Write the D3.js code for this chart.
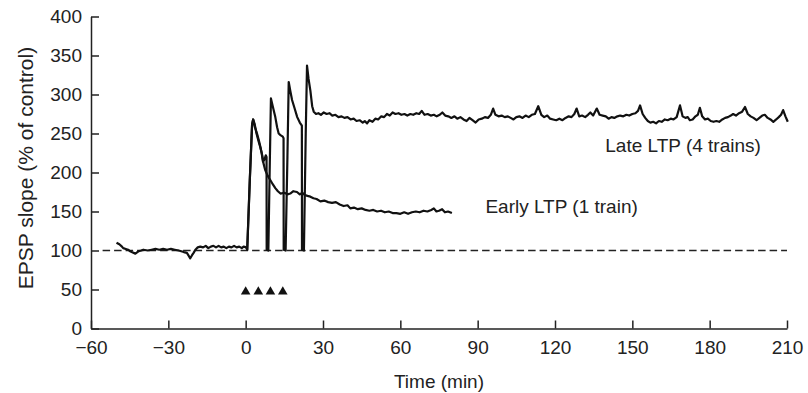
<!DOCTYPE html>
<html>
<head>
<meta charset="utf-8">
<script src="https://cdn.jsdelivr.net/npm/d3@7"></script>
<style>
  html, body { margin: 0; padding: 0; background: #fff; }
  svg { display: block; }
  text { font-family: "Liberation Sans", Arial, Helvetica, sans-serif; fill: #222; }
</style>
</head>
<body>
<svg id="chart" width="808" height="393"></svg>
<script>
// ---------- data ----------
const xTicks = [-60, -30, 0, 30, 60, 90, 120, 150, 180, 210];
const yTicks = [0, 50, 100, 150, 200, 250, 300, 350, 400];

const baseTime  = [-50.1,-49,-48,-47.5,-46.5,-45.6,-44.8,-44.2,-42.8,-42,-41.5,-40.5,-39.7,-38,-36.5,-35,-33.5,-32,-30.5,-29,-27.5,-26,-25,-24,-22.8,-21.5,-20.8,-20.2,-19.5,-18.6,-17.6,-16.5,-15.5,-14.5,-13.5,-12.5,-11.5,-10.5,-9.5,-8.5,-7.5,-6.5,-5.5,-4.5,-3.5,-2.5,-1.5,-0.8,0.3];
const baseValue = [110,108,105,103,102,101,99,98,96,98,99,100,101,100,101,102,101,102,101,102,101,100,99,98,97,90,94,97,101,104,105,104,106,103,105,106,104,106,104,105,103,105,104,106,104,105,103,105,104];

const earlyTime  = [0.3,0.6,1.6,2.5,2.9,3.5,4.2,5.0,5.7,6.3,6.6,6.9,7.6,8.5,9.6,10.5,11.5,12.5,13.5,15,16.2,17.3,18.5,19.9,21,22,23,24,25.1,26.3,27.5,29,30.5,32,33.5,35,36.5,38,39.5,40.6,42,43.5,45,46.5,48,49.5,51,52.5,54,55.5,57,58.5,60,61.5,63,64.5,66,67.5,69,70.5,72,73,74,75,76.2,77.3,78.5,80];
const earlyValue = [104,101,190,262,268,262,250,240,232,224,218,212,203,196,190,185,180,176,173,174,172,173,176,175,172,174,171,170,169,167,166,163,164,162,161,162,159,157,158,154,155,153,154,152,151,152,150,151,149,150,148,148,147,149,147,149,150,149,151,150,152,154,150,151,153,149,150,148];

const lateTime  = [0.3,0.6,1.6,2.5,2.9,3.6,4.4,5.2,5.7,6.2,6.7,7.2,7.8,8.1,8.15,8.8,9.3,9.8,10.5,11.5,12.2,12.8,13.5,14.4,14.7,14.75,15.5,16.2,16.7,17.3,18,19,20,21,21.8,21.85,22.6,23.3,23.8,24.4,25.1,25.8,26.4,27.3,28.2,29.2,30.3,31.4,32.5,33.6,34.8,36,37.2,38.3,39.5,40.7,41.9,43,44.2,45.4,46.2,47.1,48,49.2,50.3,51.4,52.6,53.7,54.8,55.9,57,58.1,59.3,60.4,61.6,62.7,63.9,65,66.2,67.3,68.3,69.4,70.6,71.8,73,74.1,75.3,76.3,77.4,78.6,79.8,81,82.1,83.3,84.5,85.7,86.8,88,89.2,90.4,91.6,92.8,94,95.1,96,96.9,98.1,99.3,100.5,101.7,102.8,103.9,105,106.2,107.4,108.6,109.8,111,112.2,113.5,114.7,115.8,117,118.1,119.3,120.5,121.7,122.9,124.1,125.3,126.4,127.5,128.4,129.4,130.5,131.7,132.8,133.7,134.8,136.2,137.3,138.5,139.7,140.8,141.9,143,144.2,145.3,146.5,147.7,148.8,150,151.2,152.2,153,154,155,156,157,158.1,159.2,160.3,161.4,162.6,163.7,164.9,166,167.2,168.5,169.5,170.6,171.5,172.3,173.4,174.5,175.4,176.2,177.1,178.2,179.3,180.4,181.5,182.6,183.7,184.9,186,187.1,188.2,189.1,190.2,191.4,192.6,193.7,194.8,195.9,197,198.2,199.3,200.4,201.4,202.5,203.6,204.7,205.8,206.8,207.7,208.5,209.4,210.3];
const lateValue = [104,101,190,262,268,258,250,240,233,225,214,216,222,220,101,100,200,295,285,271,258,250,248,246,244,101,100,220,316,305,293,282,271,264,260,101,100,250,337,320,305,285,278,275,276,274,277,275,276,273,274,271,272,270,271,268,269,266,267,264,266,263,267,265,269,268,272,271,275,273,277,275,276,274,275,273,275,274,276,275,279,274,275,273,274,272,274,277,273,272,270,272,269,271,268,266,270,267,264,268,269,271,270,274,282,274,272,273,271,272,270,268,271,272,270,273,271,274,275,285,274,271,273,269,268,267,269,267,270,272,271,275,282,272,273,271,274,277,273,282,274,273,272,269,271,270,272,273,272,274,273,275,276,279,286,275,270,266,264,265,263,266,265,268,267,269,268,271,286,272,270,271,267,268,272,274,283,272,268,269,266,265,266,265,268,270,271,273,275,273,276,278,284,275,272,270,267,270,273,274,270,268,265,268,271,274,280,272,265];

const controlTime  = [-55.5, 210];
const controlValue = [100, 100];

const trainTime  = [0, 4.9, 9.6, 14.4];
const trainValue = [47, 47, 47, 47];

const labels = [
  { text: "Late LTP (4 trains)", t: 139.5, v: 226 },
  { text: "Early LTP (1 train)", t: 93, v: 148 }
];
const xTitle = "Time (min)";
const yTitle = "EPSP slope (% of control)";

// ---------- drawing ----------
const svg = d3.select("#chart");
const x = d3.scaleLinear().domain([-60, 210]).range([91, 787]);
const y = d3.scaleLinear().domain([0, 400]).range([328.5, 16.5]);
const FS = 19;
const INK = "#222";

const zip = (a, b) => a.map((d, i) => [d, b[i]]);
const line = d3.line().x(d => x(d[0])).y(d => y(d[1]));

// control dashed line
svg.append("path")
  .attr("d", line(zip(controlTime, controlValue)))
  .attr("fill", "none").attr("stroke", INK)
  .attr("stroke-width", 1.6).attr("stroke-dasharray", "7.5,4");

// axes
const xAxis = d3.axisBottom(x).tickValues(xTicks).tickSizeInner(-8).tickSizeOuter(0).tickPadding(12)
  .tickFormat(d3.format("d"));
const yAxis = d3.axisLeft(y).tickValues(yTicks).tickSizeInner(-8).tickSizeOuter(0).tickPadding(9);

const gx = svg.append("g").attr("transform", `translate(0,${y(0)})`).call(xAxis);
const gy = svg.append("g").attr("transform", `translate(${x(-60)},0)`).call(yAxis);
[gx, gy].forEach(g => {
  g.selectAll("path, line").attr("stroke", INK).attr("stroke-width", 1.5);
  g.selectAll("text").attr("font-size", FS).attr("fill", INK)
   .style("font-family", '"Liberation Sans", Arial, sans-serif');
});

// traces
const traceStyle = sel => sel.attr("fill", "none").attr("stroke", "#111")
  .attr("stroke-width", 2.2).attr("stroke-linejoin", "round");
svg.append("path").attr("d", line(zip(baseTime, baseValue))).call(traceStyle);
svg.append("path").attr("d", line(zip(earlyTime, earlyValue))).call(traceStyle);
svg.append("path").attr("d", line(zip(lateTime, lateValue))).call(traceStyle);

// train markers
svg.selectAll("path.train").data(zip(trainTime, trainValue)).enter()
  .append("path").attr("class", "train")
  .attr("d", d3.symbol().type(d3.symbolTriangle).size(40))
  .attr("transform", d => `translate(${x(d[0])},${y(d[1])})`)
  .attr("fill", "#111");

// labels
svg.selectAll("text.lab").data(labels).enter().append("text").attr("class", "lab")
  .attr("x", d => x(d.t)).attr("y", d => y(d.v))
  .attr("font-size", FS).text(d => d.text);

svg.append("text").attr("x", (x(-60) + x(210)) / 2).attr("y", 388)
  .attr("text-anchor", "middle").attr("font-size", FS).text(xTitle);

svg.append("text").attr("transform", `translate(33,168) rotate(-90)`)
  .attr("text-anchor", "middle").attr("font-size", 21).text(yTitle);
</script>
</body>
</html>
